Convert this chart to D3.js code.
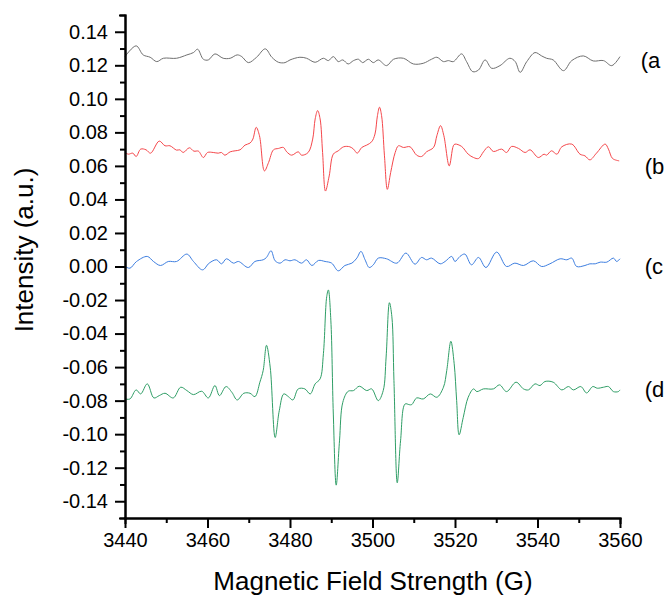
<!DOCTYPE html>
<html>
<head>
<meta charset="utf-8">
<script src="https://cdn.jsdelivr.net/npm/d3@7"></script>
<style>
  body { margin: 0; background: #fff; }
  svg { display: block; font-family: "Liberation Sans", Arial, sans-serif; }
  .axis path, .axis line { stroke: #000; stroke-width: 2; }
  .axis text { font-size: 20px; fill: #000; }
  .trace { fill: none; stroke-width: 1; }
</style>
</head>
<body>
<svg width="670" height="596"></svg>
<script>
// spectrum (a)
const fieldA = [3440.0,3442.7,3444.4,3446.1,3447.7,3449.3,3452.5,3455.0,3456.6,3457.6,3459.0,3460.2,3461.8,3463.8,3465.5,3467.2,3468.3,3469.9,3471.9,3474.0,3475.6,3477.2,3478.8,3480.0,3482.4,3484.0,3486.1,3488.1,3489.3,3490.5,3491.7,3492.8,3494.1,3495.4,3496.6,3497.6,3499.0,3500.2,3501.4,3503.4,3505.1,3507.5,3509.9,3512.3,3514.3,3515.6,3517.2,3518.4,3519.6,3521.6,3522.8,3524.3,3525.7,3527.3,3528.9,3530.9,3533.3,3534.6,3535.8,3537.4,3539.4,3541.0,3542.2,3543.8,3546.3,3548.3,3551.1,3553.5,3556.0,3558.0,3560.0]
const intensityA = [0.1252,0.1316,0.1262,0.1248,0.1222,0.1242,0.1242,0.1262,0.1276,0.1296,0.1236,0.1232,0.1268,0.1242,0.1242,0.1262,0.1252,0.1216,0.1248,0.1298,0.1248,0.1218,0.1216,0.1232,0.1248,0.1242,0.1218,0.1242,0.1228,0.1252,0.1222,0.1232,0.1208,0.1228,0.1236,0.1216,0.1236,0.1216,0.1232,0.1198,0.1236,0.1242,0.1208,0.1212,0.1236,0.1248,0.1222,0.1228,0.1222,0.1268,0.1222,0.1162,0.1172,0.1232,0.1182,0.1198,0.1242,0.1222,0.1158,0.1222,0.1276,0.1256,0.1242,0.1232,0.1168,0.1228,0.1256,0.1226,0.1228,0.1198,0.1252]

// spectrum (b)
const fieldB = [3440.0,3440.8,3441.9,3442.7,3443.8,3445.1,3446.2,3448.3,3449.7,3450.9,3452.5,3453.3,3454.1,3455.6,3456.7,3457.8,3459.0,3460.0,3461.4,3462.6,3463.4,3464.2,3465.5,3466.7,3467.9,3469.1,3470.3,3471.0,3471.8,3472.6,3473.8,3474.8,3476.0,3477.2,3478.4,3479.2,3480.4,3482.0,3482.8,3484.4,3485.5,3486.1,3486.7,3487.3,3487.9,3488.6,3489.5,3490.5,3491.7,3493.0,3494.5,3495.4,3496.3,3497.4,3498.6,3499.8,3500.6,3501.2,3501.7,3502.2,3502.9,3503.6,3504.4,3505.5,3506.3,3507.5,3509.1,3510.7,3511.9,3513.1,3514.8,3515.6,3516.5,3517.3,3518.6,3519.6,3520.0,3521.6,3523.2,3524.5,3525.7,3526.9,3528.1,3529.3,3531.3,3532.5,3533.7,3535.4,3537.0,3538.2,3540.2,3541.6,3542.2,3543.4,3544.7,3545.9,3548.3,3550.3,3551.5,3552.7,3554.3,3556.4,3557.2,3558.2,3559.8]
const intensityB = [0.068,0.067,0.0676,0.0656,0.070,0.0696,0.0676,0.0748,0.072,0.072,0.0694,0.0696,0.068,0.0708,0.0688,0.0688,0.065,0.068,0.068,0.0676,0.068,0.0664,0.0684,0.069,0.0696,0.0724,0.0736,0.076,0.083,0.078,0.057,0.062,0.0696,0.0704,0.071,0.0684,0.0664,0.0684,0.0664,0.068,0.076,0.088,0.093,0.088,0.068,0.045,0.054,0.067,0.069,0.0714,0.0714,0.070,0.0676,0.071,0.0724,0.0744,0.079,0.090,0.095,0.090,0.066,0.046,0.056,0.068,0.072,0.071,0.0714,0.0664,0.0656,0.0684,0.071,0.078,0.084,0.078,0.060,0.072,0.073,0.0716,0.067,0.065,0.0644,0.0684,0.0714,0.0686,0.070,0.068,0.0716,0.0704,0.068,0.0696,0.065,0.067,0.0664,0.069,0.067,0.0714,0.073,0.067,0.066,0.0636,0.0676,0.073,0.070,0.0644,0.063]

// spectrum (c)
const fieldC = [3440.0,3441.2,3442.8,3445.4,3446.9,3448.6,3450.5,3452.5,3455.0,3456.6,3458.8,3460.4,3462.2,3463.4,3464.6,3466.3,3467.5,3469.9,3471.5,3473.5,3474.3,3475.4,3476.4,3477.6,3478.8,3480.0,3481.2,3482.8,3484.0,3485.3,3486.9,3488.5,3490.1,3491.7,3493.3,3495.0,3496.2,3497.2,3498.2,3499.2,3500.2,3501.4,3503.4,3505.9,3508.1,3510.3,3511.9,3513.1,3514.3,3516.4,3517.6,3519.2,3520.0,3521.2,3522.4,3524.0,3525.7,3527.5,3530.1,3532.5,3534.5,3536.6,3539.0,3541.0,3543.0,3545.5,3547.1,3548.3,3549.5,3551.5,3552.7,3554.0,3555.2,3556.8,3558.4,3559.2,3560.0]
const intensityC = [0.0,-0.001,0.003,0.006,0.003,0.0006,0.003,0.003,0.0074,0.003,-0.002,0.002,0.004,0.0016,0.0046,0.002,0.003,-0.0006,0.003,0.004,0.0054,0.0094,0.0034,0.002,0.004,0.0034,0.004,0.002,0.004,0.0006,0.0036,0.003,0.002,-0.0026,0.0006,0.002,0.005,0.009,0.004,-0.0006,0.001,0.005,0.0046,0.002,0.008,0.0014,0.0054,0.004,0.005,0.0016,0.003,0.006,0.003,0.006,0.0074,0.001,0.0054,-0.0006,0.0086,0.0,0.002,0.0006,0.0034,0.0,0.0016,0.0046,0.004,0.005,0.0,0.0006,0.0016,0.0016,0.0026,0.0026,0.005,0.003,0.0046]

// spectrum (d)
const fieldD = [3440.0,3441.2,3442.7,3443.8,3445.4,3447.0,3448.3,3449.7,3451.7,3453.5,3455.0,3456.6,3458.6,3460.2,3461.8,3462.9,3464.5,3465.9,3467.2,3468.8,3470.3,3471.5,3472.7,3473.5,3474.3,3475.2,3476.4,3477.4,3478.5,3479.6,3480.7,3482.0,3483.6,3484.9,3486.1,3487.3,3488.1,3488.9,3489.3,3489.9,3490.5,3491.2,3492.0,3492.8,3494.1,3495.4,3496.8,3498.6,3499.8,3501.4,3502.6,3503.3,3504.1,3504.7,3505.2,3506.0,3506.8,3507.9,3508.9,3509.5,3510.7,3512.3,3514.0,3515.6,3517.2,3518.0,3519.0,3519.8,3520.4,3521.0,3522.0,3523.2,3524.5,3525.3,3526.9,3529.3,3530.8,3532.5,3534.8,3536.6,3537.8,3539.4,3540.6,3541.8,3543.8,3545.9,3547.5,3548.7,3550.5,3551.9,3553.4,3554.5,3556.0,3557.2,3558.4,3559.6,3560.0]
const intensityD = [-0.079,-0.079,-0.0736,-0.076,-0.070,-0.0784,-0.077,-0.0756,-0.0784,-0.072,-0.074,-0.0764,-0.0744,-0.0784,-0.071,-0.077,-0.0716,-0.075,-0.0796,-0.0756,-0.0756,-0.0776,-0.069,-0.062,-0.047,-0.060,-0.102,-0.086,-0.076,-0.0776,-0.0796,-0.073,-0.073,-0.076,-0.070,-0.067,-0.052,-0.018,-0.014,-0.032,-0.088,-0.1304,-0.104,-0.081,-0.0744,-0.074,-0.0714,-0.074,-0.073,-0.080,-0.074,-0.054,-0.0216,-0.030,-0.068,-0.129,-0.104,-0.082,-0.0824,-0.0824,-0.0784,-0.079,-0.076,-0.078,-0.072,-0.062,-0.0446,-0.058,-0.080,-0.1004,-0.090,-0.078,-0.073,-0.0746,-0.073,-0.073,-0.0706,-0.0746,-0.069,-0.073,-0.0736,-0.070,-0.071,-0.0686,-0.069,-0.0736,-0.0716,-0.0736,-0.0716,-0.0754,-0.0716,-0.0726,-0.072,-0.0716,-0.0746,-0.0746,-0.0736]

const seriesNames = ["(a", "(b", "(c", "(d"]
const seriesColors = ["#6f6f6f", "#f5474b", "#3d7ee0", "#2f9e66"]
const labelLevels = [0.123, 0.06, 0.0, -0.073]

const xMajor = [3440,3460,3480,3500,3520,3540,3560]
const xMinor = [3450,3470,3490,3510,3530,3550]
const yMajor = [-0.14,-0.12,-0.10,-0.08,-0.06,-0.04,-0.02,0.00,0.02,0.04,0.06,0.08,0.10,0.12,0.14]
const yMinor = [-0.15,-0.13,-0.11,-0.09,-0.07,-0.05,-0.03,-0.01,0.01,0.03,0.05,0.07,0.09,0.11,0.13,0.15]

const series = [
    {field: fieldA, value: intensityA},
    {field: fieldB, value: intensityB},
    {field: fieldC, value: intensityC},
    {field: fieldD, value: intensityD}
]

const svg = d3.select("svg")

const xScale = d3.scaleLinear()
    .domain([3440,3560])
    .range([125,620])

const yScale = d3.scaleLinear()
    .domain([-0.15,0.15])
    .range([518,15])

const lineGenerator = d3.line()
    .x(d => xScale(d[0]))
    .y(d => yScale(d[1]))
    .curve(d3.curveCatmullRom.alpha(0.5))

svg.selectAll("path.trace")
    .data(series)
    .enter()
    .append("path")
    .attr("class","trace")
    .style("stroke",(d,i) => seriesColors[i])
    .attr("d",d => lineGenerator(d.field.map((f,i) => [f, d.value[i]])))

// minor ticks first, then major axes on top
svg.append("g")
    .attr("class","axis")
    .attr("transform","translate(0,518)")
    .call(d3.axisBottom(xScale).tickValues(xMinor).tickSize(5).tickFormat(""))
svg.append("g")
    .attr("class","axis")
    .attr("transform","translate(125,0)")
    .call(d3.axisLeft(yScale).tickValues(yMinor).tickSize(5).tickFormat(""))

svg.append("g")
    .attr("class","axis")
    .attr("transform","translate(0,518)")
    .call(d3.axisBottom(xScale).tickValues(xMajor).tickSize(10).tickSizeOuter(0).tickPadding(5)
        .tickFormat(d3.format("d")))

svg.append("g")
    .attr("class","axis")
    .attr("transform","translate(125,0)")
    .call(d3.axisLeft(yScale).tickValues(yMajor).tickSize(10).tickSizeOuter(0).tickPadding(7)
        .tickFormat(d => d.toFixed(2)))

svg.selectAll(".axis .domain").attr("stroke-linecap","square")

svg.append("text")
    .attr("x",(xScale.range()[0] + xScale.range()[1]) / 2 + 0.5)
    .attr("y",590)
    .attr("text-anchor","middle")
    .style("font-size","26px")
    .text("Magnetic Field Strength (G)")

svg.append("text")
    .attr("transform","translate(33,250) rotate(-90)")
    .attr("text-anchor","middle")
    .style("font-size","26px")
    .text("Intensity (a.u.)")

svg.selectAll("text.series-label")
    .data(seriesNames)
    .enter()
    .append("text")
    .attr("class","series-label")
    .attr("x",(d,i) => xScale(3565) + (i === 0 ? 0 : 4))
    .attr("y",(d,i) => yScale(labelLevels[i]))
    .attr("dy","0.35em")
    .style("font-size","22px")
    .text(d => d)
</script>
</body>
</html>
